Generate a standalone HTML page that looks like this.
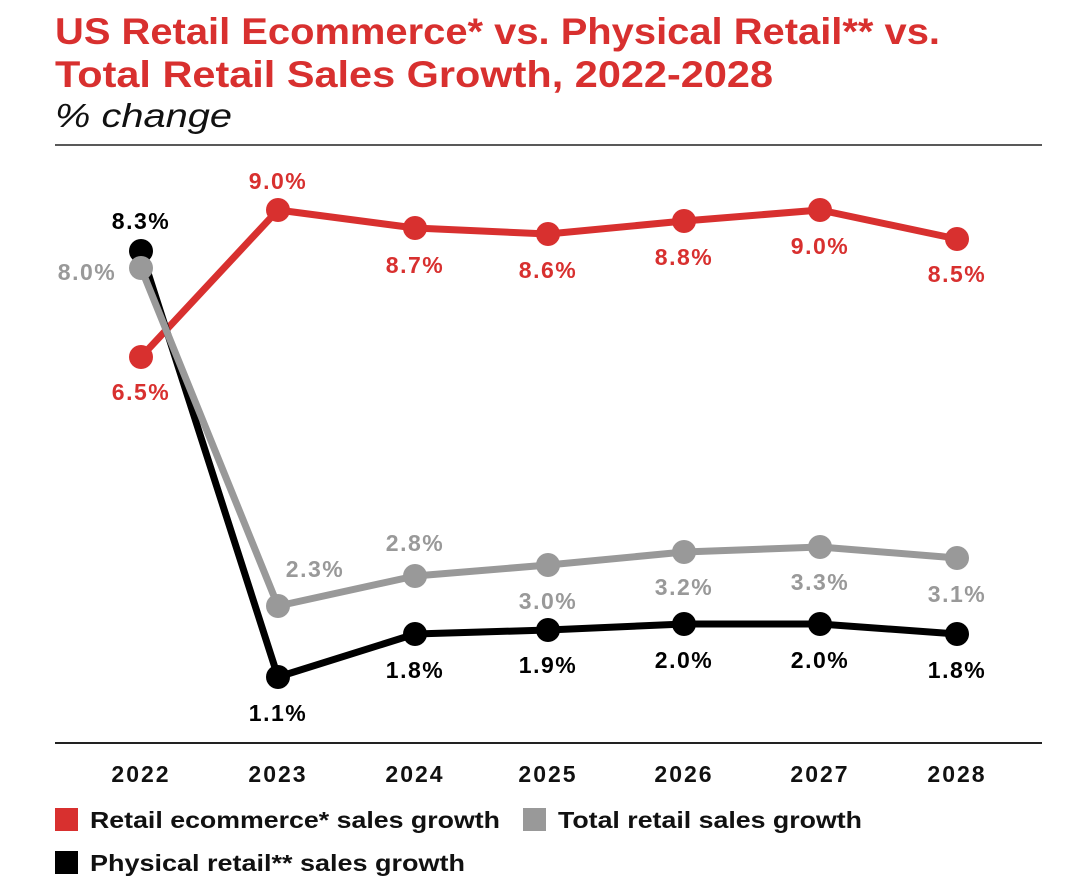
<!DOCTYPE html>
<html><head><meta charset="utf-8"><style>
body{margin:0;background:#fff;width:1080px;height:885px;overflow:hidden;font-family:"Liberation Sans",sans-serif}
</style></head><body>
<svg width="1080" height="885" xmlns="http://www.w3.org/2000/svg" font-family="Liberation Sans, sans-serif">
<text x="55" y="44" font-size="37" font-weight="bold" fill="#d8302f" textLength="885" lengthAdjust="spacingAndGlyphs">US Retail Ecommerce* vs. Physical Retail** vs.</text>
<text x="55" y="87" font-size="37" font-weight="bold" fill="#d8302f" textLength="718" lengthAdjust="spacingAndGlyphs">Total Retail Sales Growth, 2022-2028</text>
<text x="55" y="127" font-size="33" font-style="italic" fill="#111" textLength="177" lengthAdjust="spacingAndGlyphs">% change</text>
<line x1="55" y1="145" x2="1042" y2="145" stroke="#222" stroke-width="1.5"/>
<line x1="55" y1="743" x2="1042" y2="743" stroke="#222" stroke-width="2"/>
<g font-size="23" font-weight="bold" fill="#111" text-anchor="middle" letter-spacing="2">
<text x="141" y="782">2022</text><text x="278" y="782">2023</text><text x="415" y="782">2024</text><text x="548" y="782">2025</text><text x="684" y="782">2026</text><text x="820" y="782">2027</text><text x="957" y="782">2028</text>
</g>
<g stroke-width="7" fill="none" stroke-linejoin="round">
<polyline stroke="#d8302f" points="141,357 278,210 415,228 548,234 684,221 820,210 957,239"/>
<polyline stroke="#000" points="141,251 278,677 415,634 548,630 684,624 820,624 957,634"/>
<polyline stroke="#999" points="141,268 278,606 415,576 548,565 684,552 820,547 957,558"/>
</g>
<g fill="#d8302f"><circle cx="141" cy="357" r="12"/><circle cx="278" cy="210" r="12"/><circle cx="415" cy="228" r="12"/><circle cx="548" cy="234" r="12"/><circle cx="684" cy="221" r="12"/><circle cx="820" cy="210" r="12"/><circle cx="957" cy="239" r="12"/></g>
<g fill="#000"><circle cx="141" cy="251" r="12"/><circle cx="278" cy="677" r="12"/><circle cx="415" cy="634" r="12"/><circle cx="548" cy="630" r="12"/><circle cx="684" cy="624" r="12"/><circle cx="820" cy="624" r="12"/><circle cx="957" cy="634" r="12"/></g>
<g fill="#999"><circle cx="141" cy="268" r="12"/><circle cx="278" cy="606" r="12"/><circle cx="415" cy="576" r="12"/><circle cx="548" cy="565" r="12"/><circle cx="684" cy="552" r="12"/><circle cx="820" cy="547" r="12"/><circle cx="957" cy="558" r="12"/></g>
<g font-size="23" font-weight="bold" text-anchor="middle" letter-spacing="1.5">
<g fill="#d8302f"><text x="141" y="400">6.5%</text><text x="278" y="189">9.0%</text><text x="415" y="273">8.7%</text><text x="548" y="278">8.6%</text><text x="684" y="265">8.8%</text><text x="820" y="254">9.0%</text><text x="957" y="282">8.5%</text></g>
<g fill="#000"><text x="141" y="229">8.3%</text><text x="278" y="721">1.1%</text><text x="415" y="678">1.8%</text><text x="548" y="673">1.9%</text><text x="684" y="668">2.0%</text><text x="820" y="668">2.0%</text><text x="957" y="678">1.8%</text></g>
<g fill="#999"><text x="87" y="280">8.0%</text><text x="315" y="577">2.3%</text><text x="415" y="551">2.8%</text><text x="548" y="609">3.0%</text><text x="684" y="595">3.2%</text><text x="820" y="590">3.3%</text><text x="957" y="602">3.1%</text></g>
</g>
<rect x="55" y="808" width="23" height="23" fill="#d8302f"/>
<text x="90" y="828" font-size="23" font-weight="bold" fill="#111" textLength="410" lengthAdjust="spacingAndGlyphs">Retail ecommerce* sales growth</text>
<rect x="523" y="808" width="23" height="23" fill="#999"/>
<text x="558" y="828" font-size="23" font-weight="bold" fill="#111" textLength="304" lengthAdjust="spacingAndGlyphs">Total retail sales growth</text>
<rect x="55" y="851" width="23" height="23" fill="#000"/>
<text x="90" y="871" font-size="23" font-weight="bold" fill="#111" textLength="375" lengthAdjust="spacingAndGlyphs">Physical retail** sales growth</text>
</svg>
</body></html>
